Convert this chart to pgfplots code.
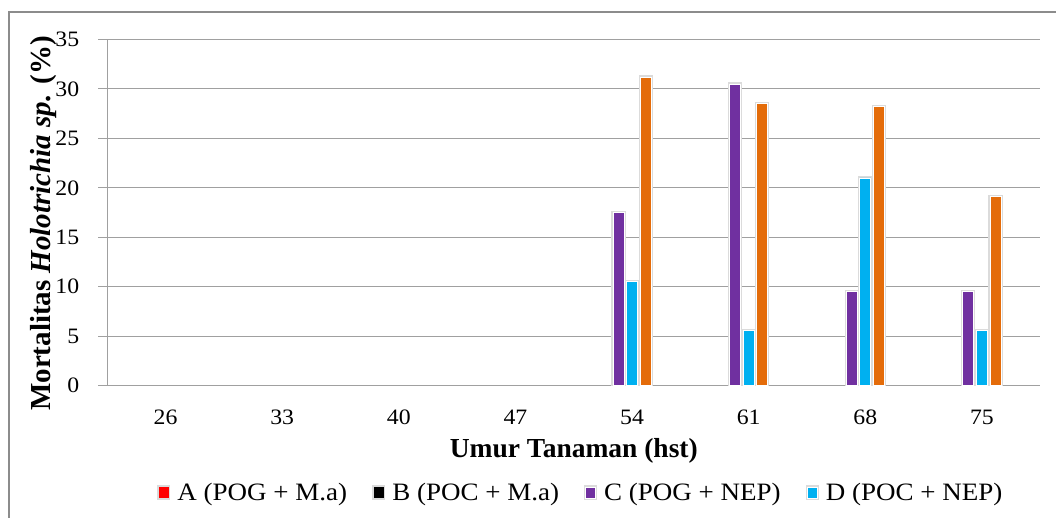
\documentclass[border=0pt]{standalone}
\usepackage{pgfplots}
\pgfplotsset{compat=1.18}
\usepackage{pgfplotstable}
\usepackage{fontspec}
\setmainfont{Liberation Serif}
\newfontfamily\widefont[FakeStretch=1.08]{Liberation Serif}

\definecolor{serC}{HTML}{7030A0}
\definecolor{serD}{HTML}{00B0F0}
\definecolor{serE}{HTML}{E46C0A}
\definecolor{gridgray}{HTML}{A0A0A0}
\definecolor{framegray}{HTML}{8C8C8C}

% Mortality per plant age (hst); columns: category index, A, B, C, D, E
\pgfplotstableread{
idx A B C D E
0 0 0 0 0 0
1 0 0 0 0 0
2 0 0 0 0 0
3 0 0 0 0 0
4 0 0 17.5 10.5 31.2
5 0 0 30.5 5.6 28.5
6 0 0 9.5 21.0 28.2
7 0 0 9.5 5.6 19.1
}\mortalitas

\begin{document}
\begin{tikzpicture}[x=1pt,y=1pt]
\draw[framegray, line width=1.5pt] (9,505) rectangle (1080,-20);
\begin{axis}[
  at={(92,133)}, anchor=south west,
  scale only axis, width=933pt, height=346pt,
  xmin=-0.5, xmax=7.5, ymin=0, ymax=35,
  xtick={0,...,7},
  xticklabels={26,33,40,47,54,61,68,75},
  ytick={0,5,...,35},
  axis x line*=bottom, axis y line*=left,
  axis line style={gridgray, line width=1pt, -},
  ymajorgrids, grid style={gridgray, line width=1pt},
  xtick style={draw=none},
  ytick style={gridgray, line width=1pt},
  tick align=outside, major tick length=9pt,
  tick label style={font=\widefont\fontsize{22}{26}\selectfont},
  /pgf/number format/assume math mode=true,
  yticklabel style={xshift=-15.5pt},
  xticklabel style={yshift=-12pt},
  xlabel={\textbf{Umur Tanaman (hst)}},
  ylabel={\textbf{Mortalitas \textit{Holotrichia sp.} (\%)}},
  xlabel style={font=\fontsize{27.5}{30}\selectfont, at={(axis description cs:0.5,-0.19)}, anchor=center},
  ylabel style={font=\fontsize{29}{31}\selectfont, at={(axis description cs:-0.0686,0.468)}, anchor=center},
  legend style={at={(axis description cs:0.5075,-0.309)}, anchor=center,
    draw=none, fill=none, font=\widefont\fontsize{25}{28}\selectfont,
    /tikz/every even column/.append style={column sep=23pt}},
  legend columns=4,
  legend image code/.code={\fill[#1] (0pt,-5.5pt) rectangle (10pt,5.5pt);
    \path (0pt,0pt) (15pt,0pt);},
  every axis plot/.append style={ybar, bar width=11pt, draw=white, line width=0.8pt,
    preaction={draw=black!14, line width=3.2pt}},
]
\addlegendimage{fill=red, draw=none}
\addlegendentry{A (POG + M.a)}
\addlegendimage{fill=black, draw=none}
\addlegendentry{B (POC + M.a)}
\addplot[fill=serC, bar shift=-13.6pt, skip coords between index={0}{4}] table[x=idx, y=C] {\mortalitas};
\addlegendentry{C (POG + NEP)}
\addplot[fill=serD, bar shift=0pt, skip coords between index={0}{4}] table[x=idx, y=D] {\mortalitas};
\addlegendentry{D (POC + NEP)}
\addplot[fill=serE, bar shift=13.6pt, skip coords between index={0}{4}, forget plot] table[x=idx, y=E] {\mortalitas};
\end{axis}
\pgfresetboundingbox
\useasboundingbox (0,0) rectangle (1056,517);
\end{tikzpicture}
\end{document}
